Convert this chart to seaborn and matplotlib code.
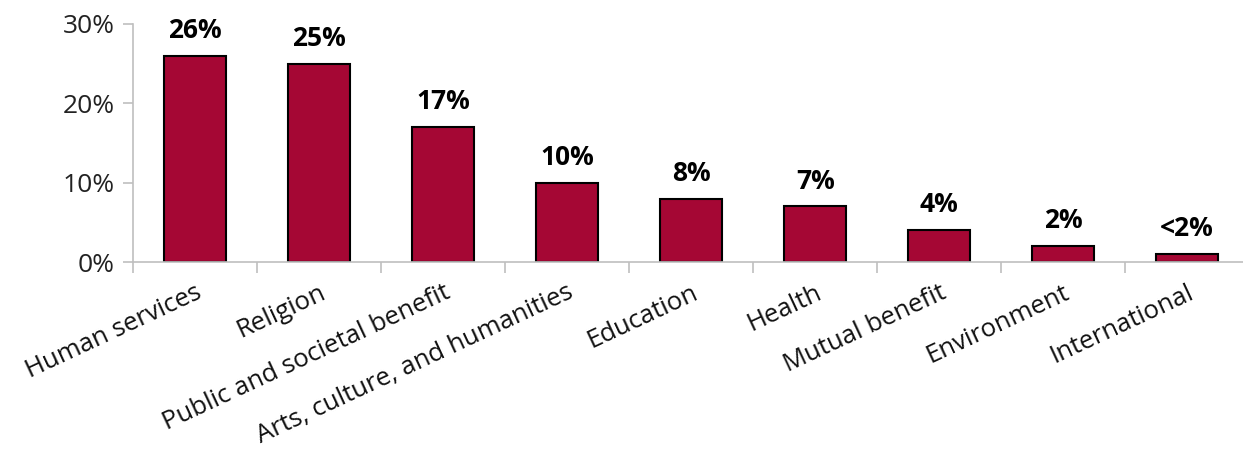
import numpy as np
import pandas as pd
import matplotlib
matplotlib.use("Agg")
import matplotlib.pyplot as plt
import seaborn as sns

categorias = ["Human services", "Religion", "Public and societal benefit",
              "Arts, culture, and humanities", "Education", "Health",
              "Mutual benefit", "Environment", "International"]
valores = [26, 25, 17, 10, 8, 7, 4, 2, 1]
etiquetas = ["26%", "25%", "17%", "10%", "8%", "7%", "4%", "2%", "<2%"]

sns.set_style("white")
plt.rcParams["font.family"] = ["Open Sans", "DejaVu Sans"]

df = pd.DataFrame({"Categoria": categorias, "Valor": valores})

fig = plt.figure(figsize=(12.43, 4.51), dpi=100)
ax = fig.add_axes([0.107, 0.419, 0.898, 0.528])

sns.barplot(data=df, x="Categoria", y="Valor", color="#A50734", saturation=1,
            width=0.5, edgecolor="black", linewidth=1.5, ax=ax)

for i, (v, t) in enumerate(zip(valores, etiquetas)):
    ax.text(i, v + 1.5, t, ha="center", va="bottom", fontsize=19,
            fontweight="bold", color="black")

ax.set_ylim(0, 30)
ax.set_xlim(-0.5, len(categorias) - 0.5)
ax.set_yticks([0, 10, 20, 30])
ax.set_yticklabels(["0%", "10%", "20%", "30%"], fontsize=19, color="#222222")
ax.set_xticks(range(len(categorias)))
ax.set_xticklabels(categorias, rotation=25, ha="right", rotation_mode="anchor",
                   fontsize=18.5, color="#111111")
ax.set_xticks(np.arange(-0.5, len(categorias), 1), minor=True)
ax.tick_params(axis="x", which="major", length=0, pad=13)
ax.tick_params(axis="x", which="minor", length=8, color="#BFBFBF", width=1.2,
               direction="out", bottom=True)
ax.tick_params(axis="y", length=7, color="#BFBFBF", width=1.2,
               direction="out", left=True, pad=6)
ax.set_xlabel("")
ax.set_ylabel("")

for s in ["top", "right"]:
    ax.spines[s].set_visible(False)
for s in ["left", "bottom"]:
    ax.spines[s].set_color("#BFBFBF")
    ax.spines[s].set_linewidth(1.2)

fig.savefig("out.png", dpi=100)
